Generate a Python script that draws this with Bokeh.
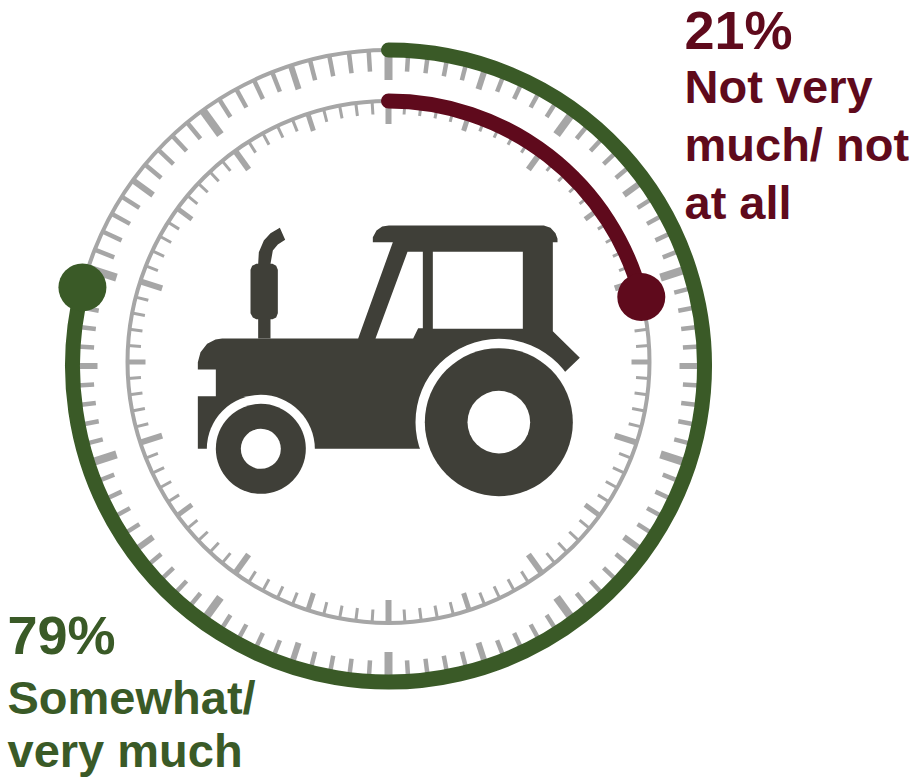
from math import pi, sin, cos
from bokeh.plotting import figure
from bokeh.embed import file_html
from bokeh.resources import INLINE
from bokeh.core.properties import value

# ---- data ----
categories = ["Not very much/ not at all", "Somewhat/ very much"]
percent_values = [21, 79]
percent_labels = ["21%", "79%"]
label_lines_red = ["Not very", "much/ not", "at all"]
label_lines_green = ["Somewhat/", "very much"]

RED = "#5F0A1C"
GREEN = "#3A5A27"
GRAY = "#A6A6A6"
DARK = "#3F3F38"

W, H = 920, 779
CX, CY = 388, 365

def X(px): return px - CX
def Y(py): return CY - py

p = figure(width=W, height=H, output_backend="svg", toolbar_location=None,
           x_range=(X(0), X(W)), y_range=(Y(H), Y(0)),
           min_border=0, outline_line_color=None, background_fill_color="white",
           border_fill_color="white")
p.axis.visible = False
p.grid.visible = False

def dial(cy_px, radius, lens, widths, ring_w, color, val, line_w, dot_r):
    cy = Y(cy_px)
    p.circle(x=[0], y=[cy], radius=[radius], fill_color=None, line_color=GRAY, line_width=ring_w)
    for kind, step_filter in enumerate([lambda i: i % 5 != 0,
                                        lambda i: i % 5 == 0 and i % 10 != 0,
                                        lambda i: i % 10 == 0]):
        idx = [i for i in range(100) if step_filter(i)]
        a = [2 * pi * i / 100 for i in idx]
        p.segment(x0=[radius * sin(t) for t in a], y0=[cy + radius * cos(t) for t in a],
                  x1=[(radius - lens[kind]) * sin(t) for t in a],
                  y1=[cy + (radius - lens[kind]) * cos(t) for t in a],
                  line_color=GRAY, line_width=widths[kind])
    end = 2 * pi * val / 100
    p.arc(x=[0], y=[cy], radius=[radius], start_angle=[pi / 2], end_angle=[pi / 2 - end],
          direction="clock", line_color=color, line_width=line_w, line_cap="round")
    p.circle(x=[radius * sin(end)], y=[cy + radius * cos(end)], radius=[dot_r],
             fill_color=color, line_color=None)

dial(365.5, 316, (21, 25, 30), (4.5, 6, 8), 4, GREEN, percent_values[1], 15, 24)
dial(361.5, 261, (13, 18, 23), (3, 5, 6), 4, RED, percent_values[0], 15, 24)

# ---- tractor silhouette (traced outline) ----
def tz(points):
    return [X(190 + a / 3) for a, b in points], [Y(220 + b / 3) for a, b in points]

body = [(22, 447), (22, 425), (30, 395), (50, 370), (75, 357), (95, 354), (503, 354), (607, 65),
        (547, 65), (547, 50), (558, 30), (575, 18), (595, 15), (1060, 15), (1080, 22), (1095, 38),
        (1101, 55), (1101, 65), (1087, 65), (1087, 332), (1168, 412), (1125, 453), (925, 605),
        (690, 685), (375, 685), (211, 685), (46, 685), (22, 685), (22, 527), (76, 527), (76, 447)]
exhaust = [(203, 354), (203, 296), (197, 296), (187, 291), (180, 278), (180, 148), (185, 136),
           (197, 130), (203, 130), (205, 95), (220, 60), (240, 38), (268, 22), (284, 58),
           (262, 72), (247, 90), (240, 130), (246, 130), (257, 136), (262, 148), (262, 278),
           (257, 291), (246, 296), (240, 296), (240, 354)]
win_r = [(727, 94), (997, 94), (997, 325), (727, 325)]
win_l = [(651, 94), (697, 94), (697, 323), (683, 323), (668, 354), (555, 354)]

for pts, col in [(body, DARK), (exhaust, DARK), (win_r, "white"), (win_l, "white")]:
    xs, ys = tz(pts)
    p.patch(xs, ys, fill_color=col, line_color=None)

for zx, zy, rz, col in [(925, 605, 250, "white"), (925, 605, 222, DARK), (925, 605, 94, "white"),
                        (211, 685, 162, "white"), (211, 685, 135, DARK), (211, 685, 60, "white")]:
    p.circle(x=[X(190 + zx / 3)], y=[Y(220 + zy / 3)], radius=[rz / 3], fill_color=col, line_color=None)

# ---- texts ----
def label(txt, px, py, size, col):
    p.text(x=[X(px)], y=[Y(py - 0.385 * size)], text=[txt], text_color=col, text_font=value("Liberation Sans"),
           text_font_style="bold", text_font_size=f"{size}px", text_baseline="alphabetic", text_align="left")

label(percent_labels[0], 684, 50, 54, RED)
for t, b in zip(label_lines_red, [104, 162, 220]):
    label(t, 684, b, 47, RED)
label(percent_labels[1], 7, 655, 54, GREEN)
for t, b in zip(label_lines_green, [715, 768]):
    label(t, 7, b, 47, GREEN)

open("out.html", "w").write(file_html(p, INLINE))
